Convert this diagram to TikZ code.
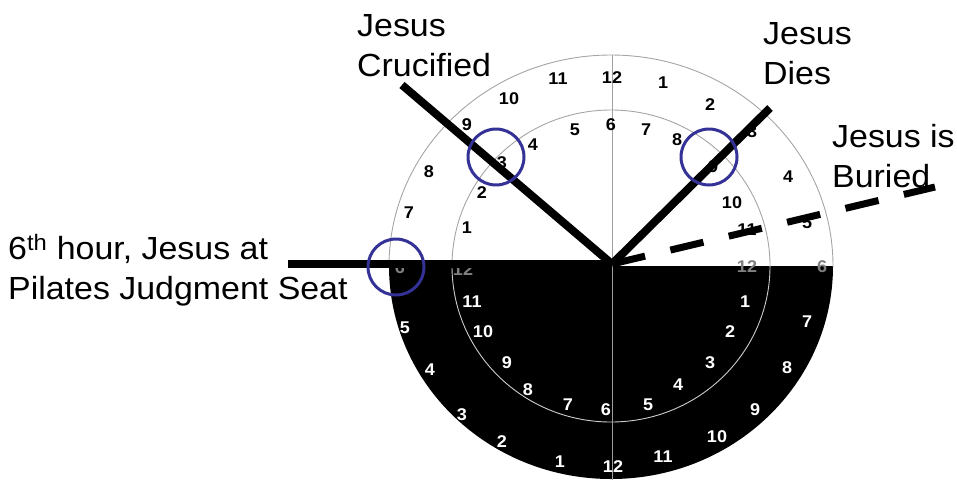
\documentclass[tikz,border=0pt]{standalone}
\usepackage{fontspec}
\setmainfont{Liberation Sans}[FakeStretch=1.06]
\definecolor{ringblue}{RGB}{52,50,150}
\definecolor{thingray}{RGB}{165,165,165}
\begin{document}
\begin{tikzpicture}[x=1pt,y=1pt,
  num/.style={font=\fontsize{17}{17}\selectfont\bfseries, inner sep=0pt, text=black},
  wnum/.style={num, text=white},
  gnum/.style={num, text=gray},
  lbl/.style={font=\fontsize{32}{40}\selectfont, align=left, inner sep=0pt, anchor=north west},
  hand/.style={line width=8pt},
  ringline/.style={draw=thingray, line width=0.9pt},
  bluering/.style={draw=ringblue, line width=3pt, circle, minimum size=56pt, inner sep=0pt}
]
\useasboundingbox (0,0) rectangle (957,-480);

% black lower half
\begin{scope}
  \clip (370,-266) rectangle (850,-490);
  \fill[black] (611,-266) ellipse [x radius=222, y radius=213];
  \draw[draw=gray!40, line width=0.9pt] (611,-266) ellipse [x radius=159, y radius=156];
\end{scope}
% upper thin arcs
\begin{scope}
  \clip (370,-266) rectangle (850,-40);
  \draw[ringline] (611,-266) ellipse [x radius=222, y radius=211];
  \draw[ringline] (611,-266) ellipse [x radius=159, y radius=156];
\end{scope}
\coordinate (Vt) at (612,-55);
\coordinate (Vb) at (612,-480);
\draw[draw=gray!75, line width=0.9pt] (Vt) -- (Vb);

% outer ring, top half
\foreach \n/\x/\y [count=\i] in {7/409/213, 8/429/172, 9/467/125, 10/509/99, 11/558/79, 12/612/78, 1/663/83, 2/710/105, 3/752/132, 4/788/177, 5/807/223}
  \node[num] (ot\i) at (\x,-\y) {\n};
% inner ring, top half
\foreach \n/\x/\y [count=\i] in {1/467/228, 2/482/193, 3/502/163, 4/533/145, 5/575/130, 6/611/125, 7/646/130, 8/677/140, 9/713/167, 10/732/203, 11/747/230}
  \node[num] (it\i) at (\x,-\y) {\n};
% faded numbers on the horizon
\node[gnum] (hl6) at (400,-268) {6};
\node[gnum] (hr6) at (822,-267) {6};
\node[gnum] (hl12) at (463,-270) {12};
\node[gnum] (hr12) at (747,-267) {12};
% outer ring, bottom half
\foreach \n/\x/\y [count=\i] in {5/405/328, 4/430/370, 3/462/415, 2/502/442, 1/560/462, 12/613/467, 11/663/457, 10/717/437, 9/755/410, 8/787/368, 7/807/322}
  \node[wnum] (ob\i) at (\x,-\y) {\n};
% inner ring, bottom half
\foreach \n/\x/\y [count=\i] in {11/472/302, 10/483/332, 9/507/363, 8/528/390, 7/568/405, 6/606/410, 5/648/405, 4/678/385, 3/710/363, 2/730/332, 1/745/302}
  \node[wnum] (ib\i) at (\x,-\y) {\n};

% hands
\coordinate (O) at (612,-264);
\coordinate (L) at (288,-264);
\coordinate (Cr) at (402,-85);
\coordinate (Di) at (770,-108);
\coordinate (Bu) at (935,-187);
\draw[hand] (L) -- (O);
\draw[hand] (Cr) -- (O);
\draw[hand] (O) -- (Di);
\draw[line width=7pt, dash pattern=on 34pt off 26pt] (O) -- (Bu);

% blue circles
\node[bluering] (c1) at (396,-267) {};
\node[bluering] (c2) at (496,-157) {};
\node[bluering] (c3) at (709,-157) {};

% labels
\node[lbl] (tcru) at (357,-14) {Jesus\\Crucified};
\node[lbl] (tdie) at (763,-22) {Jesus\\Dies};
\node[lbl] (tbur) at (832,-124) {Jesus is\\Buried};
\node[lbl] (tsix) at (8,-234) {6\textsuperscript{th} hour, Jesus at\\Pilates Judgment Seat};
\end{tikzpicture}
\end{document}
